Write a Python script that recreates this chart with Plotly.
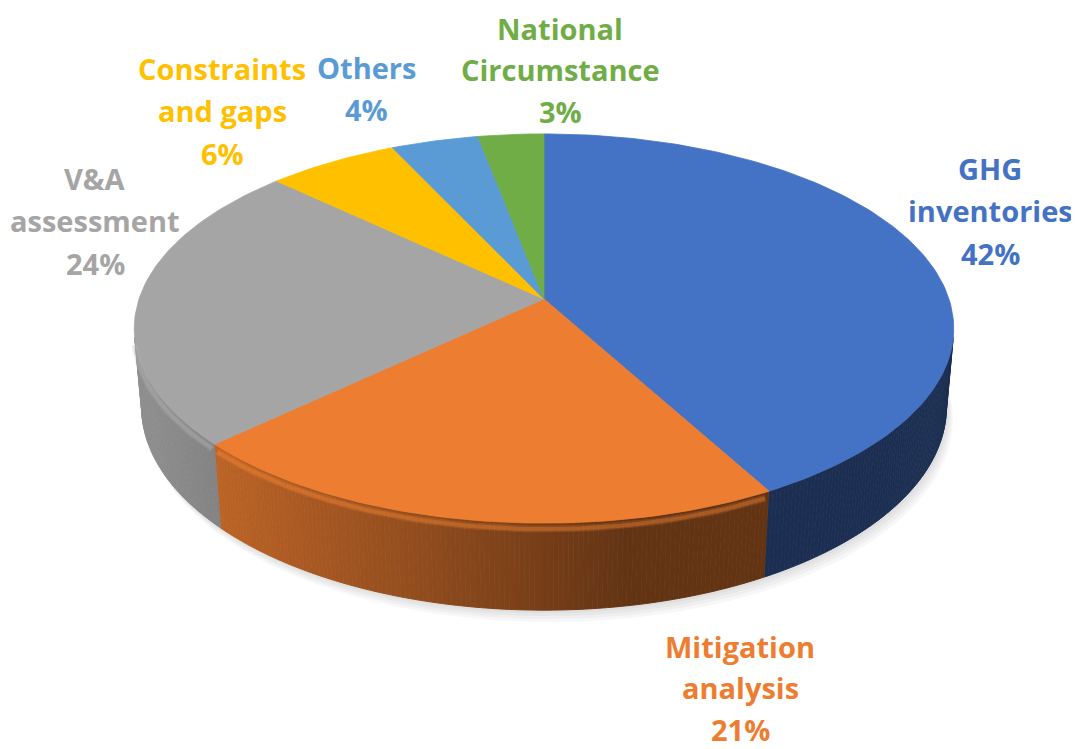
import numpy as np
import plotly.graph_objects as go

# ---- data ----
categories = ["GHG inventories", "Mitigation analysis", "V&A assessment",
              "Constraints and gaps", "Others", "National Circumstance"]
values = [42, 21, 24, 6, 4, 3]
label_lines = [["GHG", "inventories"], ["Mitigation", "analysis"], ["V&A", "assessment"],
               ["Constraints", "and gaps"], ["Others"], ["National", "Circumstance"]]
top_colors = ["#4472C4", "#ED7D31", "#A5A5A5", "#FFC000", "#5B9BD5", "#70AD47"]

# ---- style / layout ----
W, HGT = 1079, 749
OFF = 8                    # page body margin compensation
CX, CY = 544, 299          # projected pie centre (pixels)
F, D = 2357.0, 5.82        # focal length, camera distance (pie radius = 1)
PHI = np.radians(28)       # camera elevation
THICK = 0.222              # pie thickness
label_pos = [(990, 168), (740, 646), (95, 178), (222, 68), (366, 67), (560, 28)]
label_gap = [42.5, 41.5, 42.5, 42.5, 42.0, 41.5]
FONT = "Open Sans"
FSIZE = 29

s, c = np.sin(PHI), np.cos(PHI)


def proj(theta, Y):
    theta = np.asarray(theta, dtype=float)
    X = np.sin(theta)
    Z = -np.cos(theta)
    depth = D - Y * s - Z * c
    x = CX + F * X / depth
    y = CY - F * (Y * c - Z * s) / depth
    return x, y


def shade(hexcol, k):
    h = hexcol.lstrip("#")
    r, g, b = (int(h[i:i + 2], 16) for i in (0, 2, 4))
    return "rgb(%d,%d,%d)" % (min(255, r * k), min(255, g * k), min(255, b * k))


total = float(sum(values))
fracs = np.array(values) / total
bounds = np.concatenate([[0], np.cumsum(fracs)]) * 2 * np.pi

fig = go.Figure()

# soft shadow under the pie
full = np.linspace(0, 2 * np.pi, 240)
for i in range(4):
    bx, by = proj(full, -THICK)
    fig.add_trace(go.Scatter(x=bx + 2 + i * 1.5, y=by + 3 + i * 3, mode="lines", fill="toself",
                             fillcolor="rgba(0,0,0,0.03)", line=dict(width=0),
                             hoverinfo="skip", showlegend=False))

# side walls (visible front part), shaded strips
t_vis = np.arccos(-1.0 / (D * c))
ta, tb = t_vis, 2 * np.pi - t_vis
LIGHT = np.radians(260)
for i in range(len(values)):
    t0, t1 = max(bounds[i], ta), min(bounds[i + 1], tb)
    if t1 <= t0:
        continue
    n = max(2, int(np.degrees(t1 - t0) / 0.6))
    ts = np.linspace(t0, t1, n + 1)
    for j in range(n):
        tt = np.linspace(ts[j], ts[j + 1], 2)
        xt, yt = proj(tt, 0.0)
        xb, yb = proj(tt[::-1], -THICK)
        tm = 0.5 * (ts[j] + ts[j + 1])
        k = 0.42 + 0.45 * max(0.0, np.cos(tm - LIGHT))
        col = shade(top_colors[i], k)
        fig.add_trace(go.Scatter(x=np.concatenate([xt, xb]), y=np.concatenate([yt, yb]),
                                 mode="lines", fill="toself", fillcolor=col,
                                 line=dict(width=1, color=col),
                                 hoverinfo="skip", showlegend=False))

# top faces
for i in range(len(values)):
    tt = np.linspace(bounds[i], bounds[i + 1], max(4, int(np.degrees(bounds[i + 1] - bounds[i]))))
    xa, ya = proj(tt, 0.0)
    xs = np.concatenate([[CX], xa, [CX]])
    ys = np.concatenate([[CY], ya, [CY]])
    fig.add_trace(go.Scatter(x=xs, y=ys, mode="lines", fill="toself",
                             fillcolor=top_colors[i], line=dict(width=0.8, color=top_colors[i]),
                             name=categories[i], hoverinfo="name", showlegend=False))

# soft bevel highlight along the lit front edge of the top
for i in range(len(values)):
    t0, t1 = max(bounds[i], ta), min(bounds[i + 1], tb)
    if t1 <= t0:
        continue
    kk = np.cos(0.5 * (t0 + t1) - LIGHT)
    if kk < 0.3:
        continue
    tt = np.linspace(t0 + 0.01, t1 - 0.01, 60)
    xa, ya = proj(tt, 0.0)
    for w, op in [(7, 0.18), (4, 0.3)]:
        fig.add_trace(go.Scatter(x=xa, y=ya + 6, mode="lines",
                                 line=dict(width=w, color=shade(top_colors[i], 1.12)),
                                 opacity=op, hoverinfo="skip", showlegend=False))

# labels
for i in range(len(values)):
    pct = "%d%%" % round(fracs[i] * 100)
    lines = label_lines[i] + [pct]
    x0, y0 = label_pos[i]
    for j, ln in enumerate(lines):
        fig.add_annotation(x=x0, y=y0 + j * label_gap[i], text="<b>%s</b>" % ln, showarrow=False,
                           xanchor="center", yanchor="middle", borderpad=0,
                           font=dict(family=FONT, size=FSIZE, color=top_colors[i]))

fig.update_layout(width=W - OFF, height=HGT - OFF, margin=dict(l=0, r=0, t=0, b=0),
                  paper_bgcolor="white", plot_bgcolor="white",
                  xaxis=dict(range=[OFF, W], visible=False, fixedrange=True),
                  yaxis=dict(range=[HGT, OFF], visible=False, fixedrange=True),
                  showlegend=False)
fig.write_html("out.html")
